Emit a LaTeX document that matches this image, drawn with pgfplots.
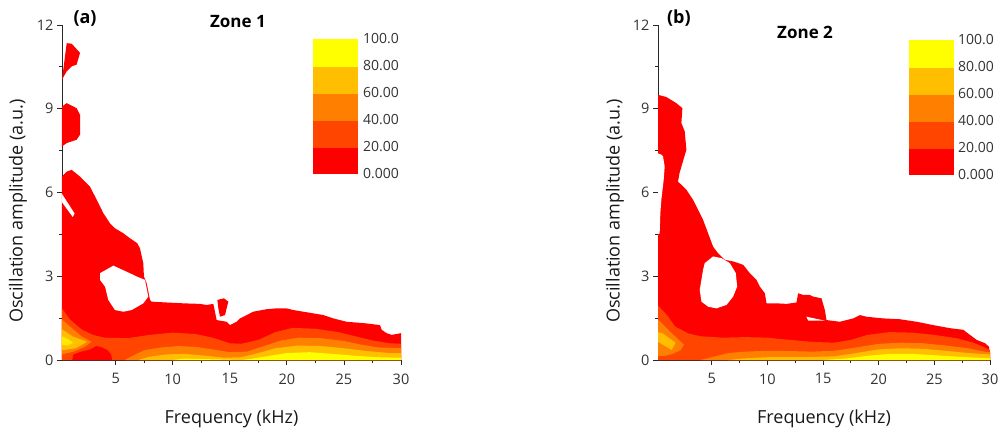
\documentclass[border=0pt]{standalone}
\usepackage{fontspec}
\setmainfont{Open Sans}
\usepackage{pgfplots}
\pgfplotsset{compat=1.18}

\definecolor{cA}{RGB}{255,0,0}
\definecolor{cB}{RGB}{255,69,0}
\definecolor{cC}{RGB}{255,128,0}
\definecolor{cD}{RGB}{255,190,0}
\definecolor{cE}{RGB}{255,255,0}
\definecolor{axisgray}{RGB}{40,40,40}

\pgfplotsset{
  zone/.style={
    scale only axis, width=339pt, height=335pt,
    xmax=30, ymin=0, ymax=12,
    clip mode=individual,
    axis lines=left, axis line style={-, axisgray, line width=0.8pt},
    xtick={5,10,...,30}, ytick={0,3,...,12},
    minor x tick num=1, minor y tick num=1,
    tick align=outside, major tick length=5pt, minor tick length=3pt,
    tick style={axisgray, line width=0.8pt},
    ticklabel style={font=\fontsize{14.5}{14.5}\selectfont, text=black!80},
    xticklabel style={yshift=-5pt},
    /pgf/number format/assume math mode=true,
    xlabel={Frequency (kHz)}, ylabel={Oscillation amplitude (a.u.)},
    label style={font=\fontsize{18}{18}\selectfont, text=black!90},
    xlabel style={at={(axis description cs:0.5,-0.175)}, anchor=center},
    ylabel style={at={(axis description cs:-0.13,0.445)}, anchor=center},
    colormap={contour}{rgb255=(255,0,0) rgb255=(255,69,0) rgb255=(255,128,0)
      rgb255=(255,190,0) rgb255=(255,255,0)},
    colormap access=piecewise constant,
    point meta min=0, point meta max=100,
    colorbar,
    colorbar style={
      at={(parent axis.north west)}, anchor=north west,
      scale only axis, width=46pt, height=135pt,
      ytick={0,20,...,100},
      yticklabels={0.000,20.00,40.00,60.00,80.00,100.0},
      major tick length=0pt, axis line style={draw=none},
      yticklabel style={font=\fontsize{14}{14}\selectfont, text=black!80, xshift=1pt},
    },
  },
  reg/.style={draw=none, fill=#1, forget plot},
}

\begin{document}
\begin{tikzpicture}
\path[use as bounding box] (0,0) rectangle (1000pt,436pt);

% ---------- Zone 1 ----------
\begin{axis}[zone, name=a, at={(62pt,76pt)}, anchor=south west, xmin=0.3,
  colorbar style={xshift=242pt, yshift=-14pt}]
% 0-20 level
\addplot[reg=cA] coordinates {(0.3,0) (0.3,6.57) (0.71,6.75) (1.15,6.81) (1.88,6.57)
  (2.75,6.21) (3.34,5.74) (3.92,5.26) (4.5,4.9) (4.94,4.72) (5.67,4.54) (6.26,4.36)
  (6.9,4.18) (7.13,4.0) (7.42,3.47) (7.48,2.99) (7.72,2.75) (8.01,2.15) (8.15,2.09)
  (9.47,2.06) (10.93,2.03) (12.39,2.01) (12.97,1.97) (13.56,2.01) (13.85,1.43)
  (14.73,1.37) (15.02,1.25) (15.6,1.37) (15.89,1.49) (16.48,1.61) (17.06,1.73)
  (18.23,1.82) (19.11,1.85) (19.98,1.85) (20.57,1.79) (21.44,1.73) (22.32,1.67)
  (23.2,1.61) (24.07,1.49) (25.24,1.37) (26.99,1.31) (28.16,1.25) (28.31,1.08)
  (28.74,0.96) (29.18,0.9) (30,0.96) (30,0)};
\addplot[reg=cA] coordinates {(0.3,10.04) (0.71,11.35) (1.15,11.33) (1.88,11.0)
  (1.58,10.58) (1.15,10.52) (0.71,10.34)};
\addplot[reg=cA] coordinates {(0.3,9.08) (0.71,9.2) (1.58,9.02) (1.88,8.78)
  (1.88,8.07) (1.58,7.89) (0.71,7.77) (0.3,7.65)};
\addplot[reg=cA] coordinates {(13.91,2.15) (14.49,2.21) (14.87,2.09) (14.58,1.61)
  (14.14,1.55) (14.0,1.85)};
% gaps in the 0-20 level
\addplot[reg=white] coordinates {(3.63,3.11) (4.8,3.38) (6.55,3.05) (6.84,2.99)
  (7.57,2.87) (7.86,2.27) (7.42,2.03) (6.4,1.79) (5.67,1.73) (4.94,1.79) (4.36,2.15)
  (4.07,2.63) (3.63,2.87)};
\addplot[reg=white] coordinates {(0.3,5.95) (0.3,5.65) (1.25,5.12) (1.4,5.25)};
% 20-40 level
\addplot[reg=cB] coordinates {(0.3,0) (0.3,1.85) (1,1.45) (2,1.1) (3,0.9) (4,0.8)
  (6,0.78) (8,0.9) (10,0.98) (12,0.93) (13.5,0.8) (15,0.6) (16,0.58) (17.5,0.72)
  (19,1.0) (20.5,1.15) (22.5,1.12) (24.5,1.0) (26,0.85) (27.5,0.7) (29,0.6)
  (30,0.58) (30,0)};
\addplot[reg=cA] coordinates {(1.2,0) (1.3,0.2) (2,0.3) (2.8,0.38) (3.3,0.5)
  (3.8,0.45) (4.3,0.35) (4.6,0.2) (4.7,0)};
% 40-60 level
\addplot[reg=cC] coordinates {(0.3,1.45) (1.0,1.2) (2.0,0.85) (2.9,0.65) (2.2,0.45)
  (1.3,0.3) (0.3,0.2)};
\addplot[reg=cC] coordinates {(5.8,0) (6.5,0.15) (7.5,0.35) (9,0.45) (10.5,0.5)
  (12,0.47) (13.5,0.38) (15,0.28) (16.5,0.3) (18,0.5) (19.5,0.7) (21,0.8) (23,0.78)
  (25,0.68) (26.5,0.55) (28,0.45) (30,0.42) (30,0)};
% 60-80 level
\addplot[reg=cD] coordinates {(0.3,1.1) (1.2,0.85) (2.5,0.65) (1.5,0.42) (0.3,0.35)};
\addplot[reg=cD] coordinates {(7,0) (8,0.12) (9.5,0.2) (11,0.22) (13,0.15)
  (14.5,0.08) (16,0.1) (17.5,0.25) (19,0.42) (21,0.52) (23,0.5) (25,0.42) (27,0.32)
  (29,0.25) (30,0.25) (30,0)};
% 80-100 level
\addplot[reg=cE!70!cD] coordinates {(0.3,0.85) (0.8,0.75) (1.3,0.62) (0.8,0.52)
  (0.3,0.55)};
\addplot[reg=cE] coordinates {(10,0) (11,0.05) (13,0.03) (16,0) (17,0.05)
  (18.5,0.15) (20,0.25) (22,0.28) (24,0.22) (26,0.15) (28,0.1) (30,0.08) (30,0)};
\node[font=\bfseries\fontsize{18}{18}\selectfont] at (axis description cs:0.068,1.02) {(a)};
\node[font=\bfseries\fontsize{17}{17}\selectfont] at (axis description cs:0.519,1.01) {Zone 1};
\end{axis}

% ---------- Zone 2 ----------
\begin{axis}[zone, name=b, at={(658pt,76pt)}, anchor=south west, width=332pt, xmin=0.17,
  colorbar style={xshift=242pt, yshift=-15pt, width=45pt}]
% 0-20 level
\addplot[reg=cA] coordinates {(0.17,0) (0.17,9.5) (0.92,9.42) (1.82,9.2) (2.36,9.02)
  (2.27,8.49) (2.57,8.19) (2.72,7.53) (2.4,7.1) (2.1,6.69) (1.97,6.39) (2.72,6.1)
  (3.32,5.74) (3.92,5.26) (4.22,5.02) (4.67,4.54) (5.12,4.06) (5.57,3.82) (6.17,3.59)
  (6.92,3.53) (7.82,3.41) (8.42,3.11) (9.02,2.87) (9.32,2.63) (9.77,2.39) (9.92,2.03)
  (10.82,2.03) (11.72,2.01) (12.61,2.06) (12.76,2.39) (13.21,2.33) (13.81,2.33)
  (14.11,2.27) (14.86,2.21) (15.16,1.79) (15.31,1.43) (16.51,1.37) (17.71,1.49)
  (18.31,1.61) (18.91,1.55) (20.4,1.49) (21.9,1.46) (23.4,1.37) (24.9,1.25)
  (26.4,1.14) (27.6,1.08) (28.2,0.9) (28.8,0.72) (29.55,0.6) (29.9,0.48) (30,0.24)
  (30,0)};
% gaps in the 0-20 level
\addplot[reg=white] coordinates {(4.37,3.47) (5.12,3.71) (5.87,3.65) (6.62,3.47)
  (7.16,3.11) (7.28,2.63) (6.92,2.27) (6.32,1.97) (5.42,1.85) (4.67,1.91) (4.07,2.09)
  (3.92,2.51) (4.07,2.87) (4.22,3.23)};
\addplot[reg=white] coordinates {(0.17,7.4) (0.5,7.35) (0.62,7.29) (0.77,6.93)
  (0.68,6.45) (0.47,5.74) (0.38,5.26) (0.32,4.54) (0.17,4.5)};
\addplot[reg=white] coordinates {(13.51,1.55) (15.16,1.41) (13.66,1.41)};
% 20-40 level
\addplot[reg=cB] coordinates {(0.17,0) (0.17,1.95) (1,1.6) (1.7,1.2) (2.9,0.95)
  (4,0.85) (6,0.8) (8,0.82) (10,0.8) (12,0.72) (14,0.65) (16,0.62) (17.5,0.72)
  (19,0.9) (21,1.0) (23,0.98) (25,0.9) (27,0.78) (28.5,0.62) (29.5,0.45) (30,0.35)
  (30,0)};
% 40-60 level
\addplot[reg=cC] coordinates {(0.17,1.45) (0.8,1.2) (1.7,0.85) (2.5,0.55) (2.2,0.35)
  (1.5,0.22) (0.8,0.15) (0.17,0.15)};
\addplot[reg=cC] coordinates {(4,0) (5,0.1) (6.5,0.25) (8,0.3) (10,0.33) (12,0.32)
  (14,0.3) (16,0.33) (18,0.45) (20,0.58) (22,0.62) (24,0.6) (26,0.52) (28,0.42)
  (29.5,0.3) (30,0.28) (30,0)};
% 60-80 level
\addplot[reg=cD] coordinates {(0.17,1.0) (0.6,0.95) (1.75,0.62) (1.4,0.36)
  (0.17,0.65)};
\addplot[reg=cD] coordinates {(6.5,0) (8,0.06) (10,0.1) (13,0.1) (16,0.13) (18,0.25)
  (20,0.38) (22,0.42) (24,0.4) (26,0.33) (28,0.25) (30,0.2) (30,0)};
% 80-100 level
\addplot[reg=cE] coordinates {(15,0) (17,0.05) (19,0.15) (21,0.22) (23,0.22)
  (25,0.17) (27,0.12) (29,0.08) (30,0.06) (30,0)};
\node[font=\bfseries\fontsize{18}{18}\selectfont] at (axis description cs:0.063,1.02) {(b)};
\node[font=\bfseries\fontsize{17}{17}\selectfont] at (axis description cs:0.443,0.979) {Zone 2};
\end{axis}
\end{tikzpicture}
\end{document}
